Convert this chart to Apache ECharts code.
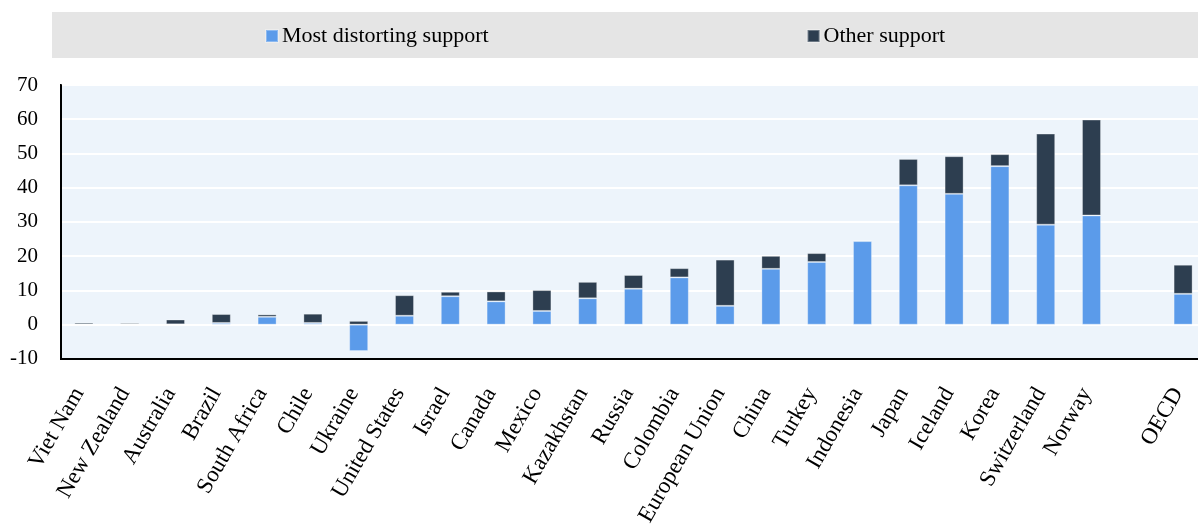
<!DOCTYPE html>
<html>
<head>
<meta charset="utf-8">
<script src="https://cdn.jsdelivr.net/npm/echarts@6/dist/echarts.min.js"></script>
<style>
  html, body { margin: 0; padding: 0; background: #fff; overflow: hidden; }
  #chart { width: 1215px; height: 529px; }
</style>
</head>
<body>
<div id="chart"></div>
<script>
// Support by country, stacked: most distorting vs other support
const categories = [
  'Viet Nam', 'New Zealand', 'Australia', 'Brazil', 'South Africa', 'Chile',
  'Ukraine', 'United States', 'Israel', 'Canada', 'Mexico', 'Kazakhstan',
  'Russia', 'Colombia', 'European Union', 'China', 'Turkey', 'Indonesia',
  'Japan', 'Iceland', 'Korea', 'Switzerland', 'Norway', '', 'OECD'
];
const mostDistorting = [
  0.1, 0.2, 0.1, 0.5, 2.3, 0.5, -7.7, 2.6, 8.3, 6.8, 4.0, 7.7,
  10.5, 13.8, 5.5, 16.3, 18.3, 24.4, 40.7, 38.2, 46.3, 29.2, 31.9, null, 9.0
];
const otherSupport = [
  0.5, 0.4, 1.4, 2.6, 0.7, 2.7, 1.1, 6.0, 1.3, 2.9, 6.1, 4.8,
  4.0, 2.7, 13.5, 3.8, 2.6, 0.2, 7.7, 11.0, 3.5, 26.6, 28.0, null, 8.5
];
const seriesNames = ['Most distorting support', 'Other support'];
const yTicks = { min: -10, max: 70, interval: 10 };

const FONT = '"Liberation Serif", "DejaVu Serif", serif';
const chart = echarts.init(document.getElementById('chart'), null, { renderer: 'canvas' });

chart.setOption({
  animation: false,
  textStyle: { fontFamily: FONT },
  graphic: [{
    type: 'rect',
    left: 52, top: 12,
    shape: { width: 1170, height: 46 },
    style: { fill: '#e5e5e5' },
    z: -1
  }],
  legend: {
    left: 260, top: 20,
    itemWidth: 12, itemHeight: 12,
    itemGap: 318,
    icon: 'rect',
    textStyle: { fontFamily: FONT, fontSize: 22, color: '#000', padding: [0, 0, 0, -1] },
    data: seriesNames
  },
  grid: {
    left: 61, top: 85, width: 1145, bottom: 169,
    show: true,
    backgroundColor: '#edf4fb',
    borderColor: '#000',
    borderWidth: 2
  },
  xAxis: {
    type: 'category',
    data: categories,
    axisLine: { onZero: false, lineStyle: { color: '#000', width: 2 } },
    axisTick: { show: false },
    axisLabel: {
      interval: 0,
      rotate: 60,
      margin: 22,
      padding: [0, 10, 0, 0],
      fontFamily: FONT,
      fontSize: 23,
      color: '#000'
    }
  },
  yAxis: {
    type: 'value',
    min: yTicks.min, max: yTicks.max, interval: yTicks.interval,
    axisLine: { show: true, lineStyle: { color: '#000', width: 2 } },
    axisTick: { show: false },
    axisLabel: { margin: 23, fontFamily: FONT, fontSize: 21, color: '#000' },
    splitLine: { show: true, lineStyle: { color: '#ffffff', width: 2 } }
  },
  series: [
    {
      name: seriesNames[0],
      type: 'bar',
      stack: 'support',
      barWidth: 19,
      data: mostDistorting,
      itemStyle: { color: '#5b9bea', borderColor: 'rgba(255,255,255,0.3)', borderWidth: 1 }
    },
    {
      name: seriesNames[1],
      type: 'bar',
      stack: 'support',
      barWidth: 19,
      data: otherSupport,
      itemStyle: { color: '#2d3e50', borderColor: 'rgba(255,255,255,0.3)', borderWidth: 1 }
    }
  ]
});
</script>
</body>
</html>
